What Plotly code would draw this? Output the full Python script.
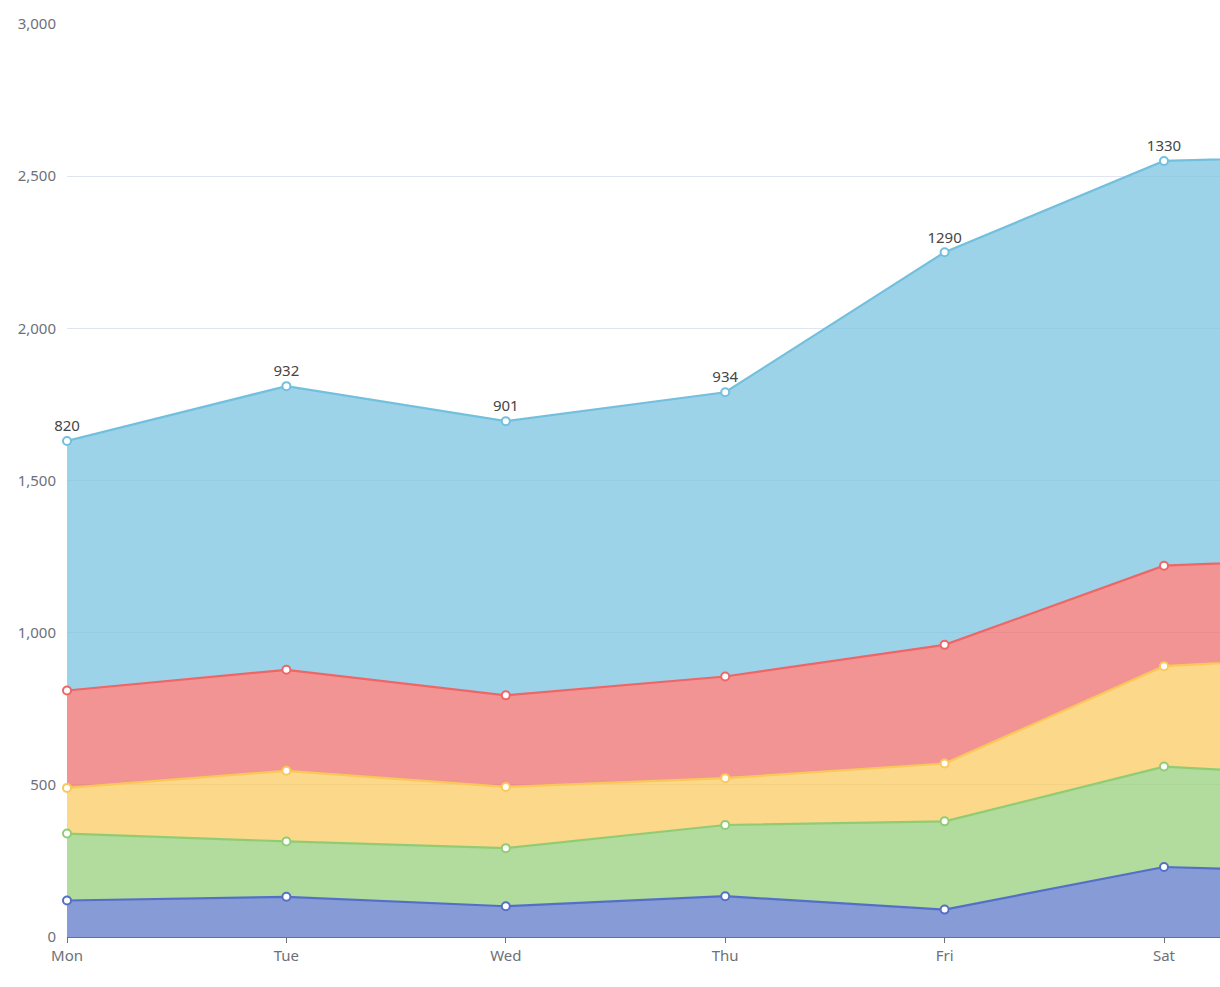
import plotly.graph_objects as go

days = ["Mon", "Tue", "Wed", "Thu", "Fri", "Sat", "Sun"]
email = [120, 132, 101, 134, 90, 230, 210]
union_ads = [220, 182, 191, 234, 290, 330, 310]
video_ads = [150, 232, 201, 154, 190, 330, 410]
direct = [320, 332, 301, 334, 390, 330, 320]
search_engine = [820, 932, 901, 934, 1290, 1330, 1320]

series = [
    ("Email", email, "#5470c6", "rgba(84,112,198,0.7)"),
    ("Union Ads", union_ads, "#91cc75", "rgba(145,204,117,0.7)"),
    ("Video Ads", video_ads, "#fac858", "rgba(250,200,88,0.7)"),
    ("Direct", direct, "#ee6666", "rgba(238,102,102,0.7)"),
    ("Search Engine", search_engine, "#73c0de", "rgba(115,192,222,0.7)"),
]

x_end = 1153 / 219.4  # visible part of the category axis (chart is cropped on the right)

fig = go.Figure()
for i, (name, vals, col, fcol) in enumerate(series):
    top = i == len(series) - 1
    labels = [str(v) if k <= x_end else "" for k, v in enumerate(vals)]
    fig.add_trace(go.Scatter(
        x=days, y=vals, name=name, stackgroup="one",
        mode="lines+markers+text" if top else "lines+markers",
        line=dict(color=col, width=2.2),
        fillcolor=fcol,
        marker=dict(symbol="circle", size=8, color="white", line=dict(color=col, width=2)),
        text=labels if top else None,
        textposition="top center",
        textfont=dict(family="Noto Sans, sans-serif", size=15, color="#464646"),
        cliponaxis=False,
    ))

fig.update_layout(
    width=1220, height=987,
    margin=dict(l=67, r=0, t=24, b=50),
    paper_bgcolor="white", plot_bgcolor="white",
    showlegend=False,
    font=dict(family="Noto Sans, sans-serif", size=15, color="#6E7079"),
    xaxis=dict(
        type="category", range=[0, x_end],
        showgrid=False, showline=True, linecolor="#6E7079", linewidth=1,
        ticks="outside", ticklen=5, tickcolor="#6E7079",
        tickfont=dict(size=15, color="#6E7079"), zeroline=False,
    ),
    yaxis=dict(
        range=[0, 3000], tickvals=[0, 500, 1000, 1500, 2000, 2500, 3000],
        tickformat=",d", showgrid=True, gridcolor="#E0E6F1", gridwidth=1,
        showline=False, zeroline=False, ticks="", ticklabelstandoff=10,
        tickfont=dict(size=15, color="#6E7079"),
    ),
)

fig.write_html(
    "out.html",
    config={"displayModeBar": False},
    post_script="document.body.style.margin='0px';document.body.style.overflow='hidden';",
)
